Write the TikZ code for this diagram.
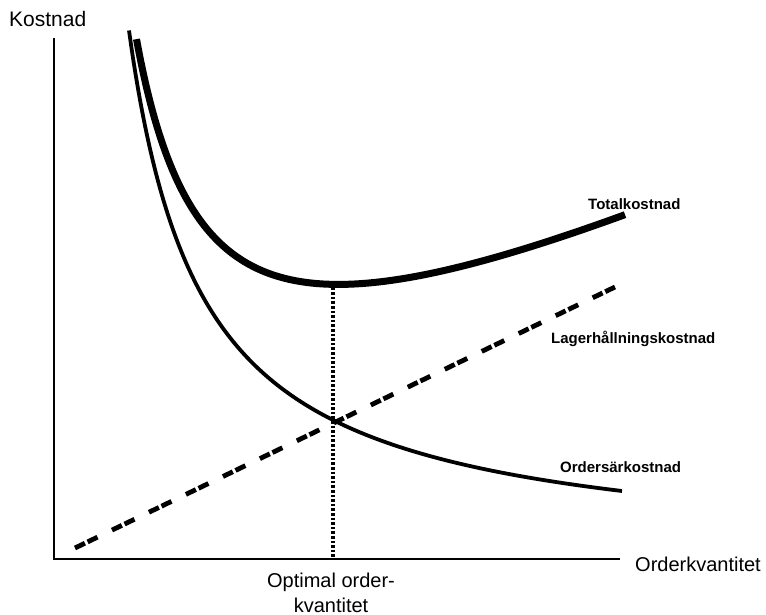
\documentclass[tikz,border=0pt]{standalone}
\usepackage{fontspec}
\setmainfont{Liberation Sans}
\begin{document}
\begin{tikzpicture}[x=1pt,y=-1pt,
  axis/.style={line width=2.6pt},
  ordercurve/.style={line width=3.8pt},
  totalcurve/.style={line width=7pt},
  storeline/.style={line width=4.8pt, dash pattern=on 11pt off 3pt on 11pt off 16.07pt},
  guide/.style={line width=3.2pt, dash pattern=on 2.6pt off 2pt},
  biglabel/.style={inner sep=0pt, font=\fontsize{20}{25}\selectfont},
  curvelabel/.style={inner sep=0pt, anchor=base west, font=\fontsize{15}{18}\selectfont\bfseries}]
  \useasboundingbox (0,0) rectangle (766,615);
  \fill[white] (0,0) rectangle (766,615);

  % axes
  \coordinate (origin) at (54,559);
  \coordinate (ytop) at (54,38);
  \coordinate (xend) at (620,559);
  \draw[axis] (ytop) -- (origin) -- (xend);

  % holding cost: straight dashed line
  \coordinate (hstart) at (75,548);
  \coordinate (hend) at (615,287);
  \draw[storeline] (hstart) -- (hend);

  % ordering cost: hyperbola
  \draw[ordercurve] plot[domain=76:569, samples=220]
    ({53+\x},{559-384.75*(100/(\x-3.2))});

  % total cost: sum of the two
  \draw[totalcurve, line cap=butt] plot[domain=83.5:572, samples=220]
    ({53+\x},{559-384.75*(100/(\x-3.2))-0.483*\x-0.4});

  % optimum marker
  \coordinate (opt) at (333,283);
  \coordinate (optfoot) at (333,559);
  \draw[guide] (opt) -- (optfoot);

  % labels
  \node[biglabel, anchor=base west, font=\fontsize{21}{25}\selectfont] (ylab) at (9,27) {Kostnad};
  \node[biglabel, anchor=base west] (xlab) at (635,571) {Orderkvantitet};
  \node[biglabel, anchor=base, align=center] (optlab) at (331,612) {Optimal order-\\kvantitet};
  \node[curvelabel] (totlab) at (588,209) {Totalkostnad};
  \node[curvelabel] (lagerlab) at (551,343) {Lagerhållningskostnad};
  \node[curvelabel] (ordlab) at (560,472) {Ordersärkostnad};
\end{tikzpicture}
\end{document}
